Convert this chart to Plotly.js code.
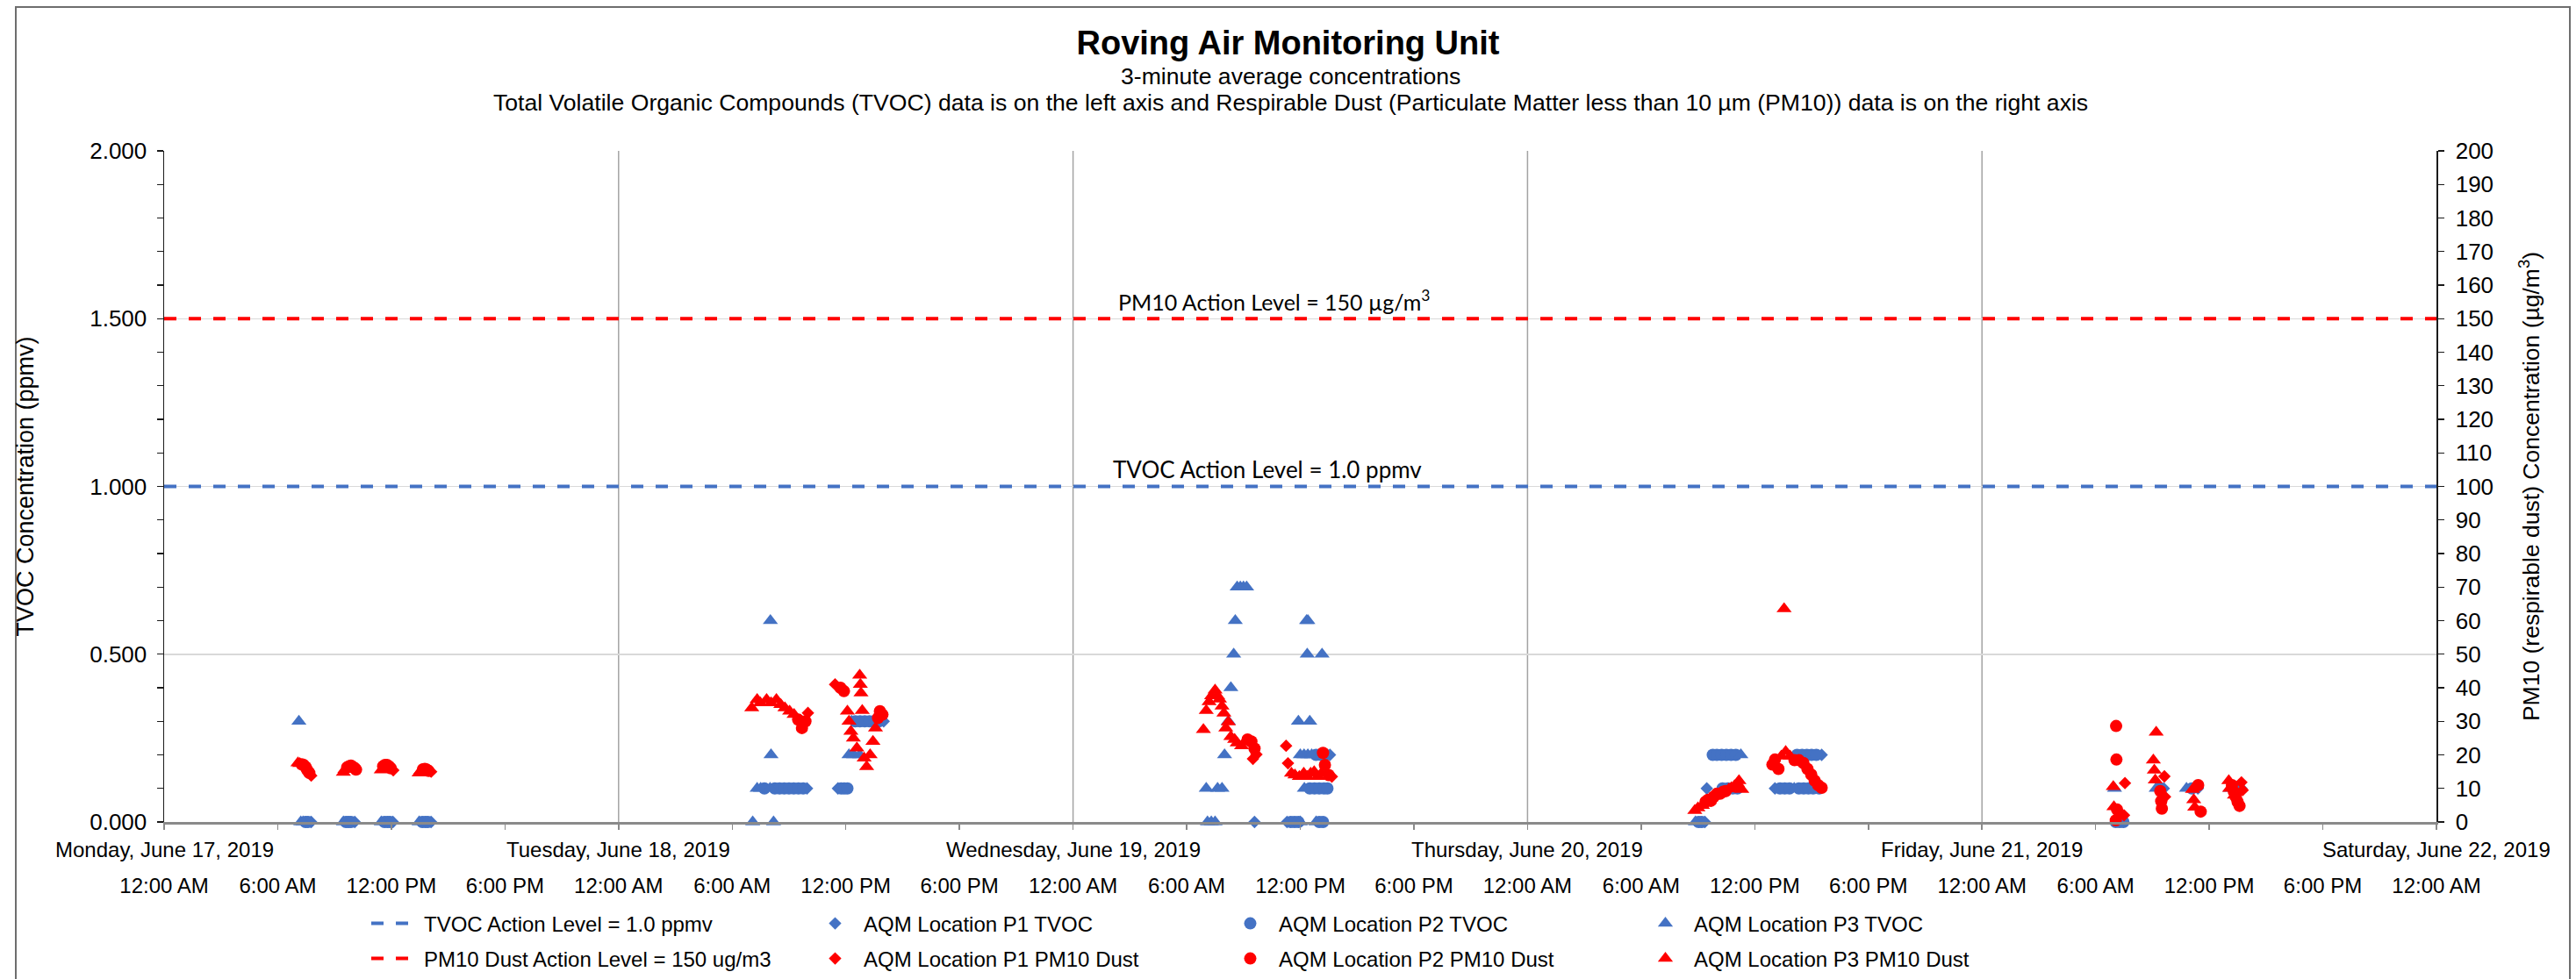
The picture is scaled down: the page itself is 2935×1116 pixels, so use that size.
<!DOCTYPE html>
<html><head><meta charset="utf-8">
<script src="https://cdn.plot.ly/plotly-3.0.1.min.js"></script>
<style>html,body{margin:0;padding:0;background:#fff;} #chart{width:2935px;height:1116px;}</style>
</head><body><div id="chart"></div>
<script>
// ---------------- DATA ----------------
const xRange = ["2019-06-17 00:00", "2019-06-22 00:00"];
const xTickVals = ["2019-06-17 00:00","2019-06-17 06:00","2019-06-17 12:00","2019-06-17 18:00",
  "2019-06-18 00:00","2019-06-18 06:00","2019-06-18 12:00","2019-06-18 18:00",
  "2019-06-19 00:00","2019-06-19 06:00","2019-06-19 12:00","2019-06-19 18:00",
  "2019-06-20 00:00","2019-06-20 06:00","2019-06-20 12:00","2019-06-20 18:00",
  "2019-06-21 00:00","2019-06-21 06:00","2019-06-21 12:00","2019-06-21 18:00",
  "2019-06-22 00:00"];
const xTickText = ["12:00 AM","6:00 AM","12:00 PM","6:00 PM",
  "12:00 AM","6:00 AM","12:00 PM","6:00 PM",
  "12:00 AM","6:00 AM","12:00 PM","6:00 PM",
  "12:00 AM","6:00 AM","12:00 PM","6:00 PM",
  "12:00 AM","6:00 AM","12:00 PM","6:00 PM",
  "12:00 AM"];
const dayVals = ["2019-06-17 00:00","2019-06-18 00:00","2019-06-19 00:00","2019-06-20 00:00","2019-06-21 00:00","2019-06-22 00:00"];
const dayLabels = ["Monday, June 17, 2019","Tuesday, June 18, 2019","Wednesday, June 19, 2019","Thursday, June 20, 2019","Friday, June 21, 2019","Saturday, June 22, 2019"];
const leftTickVals = [0, 0.5, 1.0, 1.5, 2.0];

const actionX = ["2019-06-17 00:00", "2019-06-22 00:00"];
const tvocActionY = [1.0, 1.0];
const pmActionY = [150, 150];

// AQM Location P1 TVOC (ppmv)
const p1TvocT = ["2019-06-17 07:46","2019-06-17 10:04","2019-06-17 12:05","2019-06-17 14:06",
  "2019-06-18 09:57","2019-06-18 11:35","2019-06-18 14:00",
  "2019-06-19 09:35","2019-06-19 11:18","2019-06-19 13:34",
  "2019-06-20 09:22","2019-06-20 09:28","2019-06-20 15:32","2019-06-20 13:04",
  "2019-06-21 09:36","2019-06-21 11:24","2019-06-21 13:42"];
const p1TvocV = [0,0,0,0, 0.1,0.1,0.3, 0,0,0.2, 0,0.1,0.2,0.1, 0.1,0.1,0.1];

// AQM Location P2 TVOC (ppmv)
const p2TvocT = ["2019-06-17 07:28","2019-06-17 07:36","2019-06-17 09:36","2019-06-17 09:44","2019-06-17 09:52",
  "2019-06-17 11:38","2019-06-17 11:48","2019-06-17 11:56","2019-06-17 13:38","2019-06-17 13:48","2019-06-17 13:56",
  "2019-06-18 07:42","2019-06-18 08:15","2019-06-18 08:30","2019-06-18 08:45","2019-06-18 09:00","2019-06-18 09:15","2019-06-18 09:30","2019-06-18 09:45",
  "2019-06-18 11:45","2019-06-18 11:55","2019-06-18 12:05",
  "2019-06-18 12:30","2019-06-18 12:45","2019-06-18 13:00","2019-06-18 13:15","2019-06-18 13:30","2019-06-18 13:45",
  "2019-06-19 11:30","2019-06-19 11:42","2019-06-19 11:54","2019-06-19 13:00","2019-06-19 13:12",
  "2019-06-19 12:50","2019-06-19 13:05","2019-06-19 13:20",
  "2019-06-19 12:30","2019-06-19 12:45","2019-06-19 13:00","2019-06-19 13:15","2019-06-19 13:26",
  "2019-06-20 09:02","2019-06-20 09:12",
  "2019-06-20 10:18","2019-06-20 10:35","2019-06-20 10:50","2019-06-20 11:05",
  "2019-06-20 09:47","2019-06-20 10:00","2019-06-20 10:15","2019-06-20 10:30","2019-06-20 10:45","2019-06-20 11:00",
  "2019-06-20 14:14","2019-06-20 14:30","2019-06-20 14:45","2019-06-20 15:00","2019-06-20 15:15",
  "2019-06-20 13:20","2019-06-20 13:35","2019-06-20 13:50","2019-06-20 14:20","2019-06-20 14:35","2019-06-20 14:50","2019-06-20 15:05","2019-06-20 15:24",
  "2019-06-21 07:04","2019-06-21 07:16","2019-06-21 07:28","2019-06-21 09:24","2019-06-21 11:05","2019-06-21 13:24"];
const p2TvocV = [0,0,0,0,0, 0,0,0,0,0,0,
  0.1,0.1,0.1,0.1,0.1,0.1,0.1,0.1,
  0.1,0.1,0.1,
  0.3,0.3,0.3,0.3,0.3,0.3,
  0,0,0,0,0,
  0.2,0.2,0.2,
  0.1,0.1,0.1,0.1,0.1,
  0,0,
  0.1,0.1,0.1,0.1,
  0.2,0.2,0.2,0.2,0.2,0.2,
  0.2,0.2,0.2,0.2,0.2,
  0.1,0.1,0.1,0.1,0.1,0.1,0.1,0.1,
  0,0,0,0.1,0.1,0.1];

// AQM Location P3 TVOC (ppmv)
const p3TvocT = ["2019-06-17 07:07","2019-06-17 07:13","2019-06-17 07:20","2019-06-17 09:28","2019-06-17 11:28","2019-06-17 13:28",
  "2019-06-18 08:01","2019-06-18 08:03","2019-06-18 07:05","2019-06-18 08:11","2019-06-18 07:19","2019-06-18 07:30","2019-06-18 08:00",
  "2019-06-18 12:10","2019-06-18 12:25","2019-06-18 12:44","2019-06-18 12:18",
  "2019-06-19 08:40","2019-06-19 08:50","2019-06-19 09:00","2019-06-19 09:10","2019-06-19 08:34","2019-06-19 08:29","2019-06-19 08:20",
  "2019-06-19 08:12","2019-06-19 08:00","2019-06-19 07:02","2019-06-19 07:38","2019-06-19 07:52","2019-06-19 07:06","2019-06-19 07:18","2019-06-19 07:30",
  "2019-06-19 12:00","2019-06-19 12:50",
  "2019-06-19 12:20","2019-06-19 12:24","2019-06-19 12:22","2019-06-19 13:09","2019-06-19 11:54","2019-06-19 12:30",
  "2019-06-19 12:00","2019-06-19 12:12","2019-06-19 12:24","2019-06-19 12:36","2019-06-19 12:13",
  "2019-06-20 08:52","2019-06-20 11:12","2019-06-20 11:16","2019-06-20 14:05",
  "2019-06-21 07:00","2019-06-21 09:12","2019-06-21 10:48","2019-06-21 13:06"];
const p3TvocV = [0.3,0,0,0,0,0,
  0.6,0.2,0,0,0.1,0.1,0.1,
  0.2,0.2,0.2,0.3,
  0.7,0.7,0.7,0.7,0.6,0.5,0.4,
  0.3,0.2,0.1,0.1,0.1,0,0,0,
  0,0,
  0.6,0.6,0.5,0.5,0.3,0.3,
  0.2,0.2,0.2,0.2,0.1,
  0,0.1,0.2,0.1,
  0.1,0.1,0.1,0.1];

// AQM Location P1 PM10 Dust (ug/m3)
const p1PmT = ["2019-06-17 07:46","2019-06-17 12:06","2019-06-17 14:06",
  "2019-06-18 10:00","2019-06-18 11:26",
  "2019-06-19 09:30","2019-06-19 09:41","2019-06-19 11:15","2019-06-19 11:21","2019-06-19 13:40",
  "2019-06-21 07:33","2019-06-21 07:30","2019-06-21 09:38","2019-06-21 09:40","2019-06-21 13:42","2019-06-21 13:46"];
const p1PmV = [13.8,15.4,15.0, 32.5,41.0, 18.8,20.1,22.7,17.5,13.5, 11.6,2.0,13.6,7.5,11.8,9.5];

// AQM Location P2 PM10 Dust (ug/m3)
const p2PmT = ["2019-06-17 07:16","2019-06-17 07:22","2019-06-17 07:28","2019-06-17 07:34","2019-06-17 07:40",
  "2019-06-17 09:40","2019-06-17 09:46","2019-06-17 09:52","2019-06-17 09:58","2019-06-17 10:04","2019-06-17 10:08",
  "2019-06-17 11:34","2019-06-17 11:40","2019-06-17 11:46","2019-06-17 11:52","2019-06-17 11:58",
  "2019-06-17 13:40","2019-06-17 13:46","2019-06-17 13:52","2019-06-17 13:58",
  "2019-06-18 09:29","2019-06-18 09:41","2019-06-18 09:52","2019-06-18 11:43","2019-06-18 11:54","2019-06-18 13:42","2019-06-18 13:48","2019-06-18 13:56",
  "2019-06-19 09:13","2019-06-19 09:25","2019-06-19 09:35","2019-06-19 13:12","2019-06-19 13:18","2019-06-19 13:30",
  "2019-06-20 09:24","2019-06-20 09:32","2019-06-20 09:41","2019-06-20 09:50","2019-06-20 10:00","2019-06-20 10:10","2019-06-20 10:20","2019-06-20 10:28",
  "2019-06-20 12:56","2019-06-20 13:04","2019-06-20 13:15","2019-06-20 14:06","2019-06-20 14:20","2019-06-20 14:34","2019-06-20 14:47","2019-06-20 14:59","2019-06-20 15:10","2019-06-20 15:21","2019-06-20 15:32",
  "2019-06-21 07:05","2019-06-21 07:06","2019-06-21 07:08","2019-06-21 07:04",
  "2019-06-21 09:25","2019-06-21 09:28","2019-06-21 09:30","2019-06-21 11:25","2019-06-21 11:33",
  "2019-06-21 13:12","2019-06-21 13:18","2019-06-21 13:24","2019-06-21 13:30","2019-06-21 13:36"];
const p2PmV = [17.2,17.0,16.4,15.4,14.6,
  16.3,16.6,16.8,16.4,16.0,15.6,
  16.6,17.0,17.0,16.6,16.0,
  15.7,15.8,15.6,15.2,
  30.5,28.0,30.0,40.0,39.0,31.0,33.0,32.0,
  24.6,24.0,21.9,20.6,17.0,14.0,
  6.0,6.6,6.3,7.5,8.4,8.4,9.0,9.2,
  17.1,18.6,15.8,18.4,18.4,17.6,15.8,14.1,12.3,11.0,10.2,
  28.6,18.6,3.7,0.5,
  9.2,6.2,4.0,11.0,3.1,
  11.0,9.0,7.5,6.0,4.8];

// AQM Location P3 PM10 Dust (ug/m3)
const p3PmT = ["2019-06-17 07:04","2019-06-17 07:10","2019-06-17 09:28","2019-06-17 09:33","2019-06-17 11:28","2019-06-17 13:28","2019-06-17 13:33",
  "2019-06-18 07:02","2019-06-18 07:19","2019-06-18 07:29","2019-06-18 07:49","2019-06-18 08:03","2019-06-18 08:20","2019-06-18 08:34","2019-06-18 08:47","2019-06-18 09:02","2019-06-18 09:16",
  "2019-06-18 12:05","2019-06-18 12:10","2019-06-18 12:16","2019-06-18 12:24","2019-06-18 12:35","2019-06-18 12:44","2019-06-18 12:46","2019-06-18 12:48","2019-06-18 12:52","2019-06-18 12:58","2019-06-18 13:06","2019-06-18 13:17","2019-06-18 13:26","2019-06-18 13:34",
  "2019-06-19 06:53","2019-06-19 07:02","2019-06-19 07:11","2019-06-19 07:19","2019-06-19 07:30","2019-06-19 07:38","2019-06-19 07:44","2019-06-19 07:52","2019-06-19 07:58","2019-06-19 08:04","2019-06-19 08:12","2019-06-19 08:20","2019-06-19 08:32","2019-06-19 08:40","2019-06-19 08:54",
  "2019-06-19 11:32","2019-06-19 11:43","2019-06-19 11:57","2019-06-19 12:11","2019-06-19 12:22","2019-06-19 12:33","2019-06-19 12:44","2019-06-19 12:56","2019-06-19 13:07",
  "2019-06-20 08:50","2019-06-20 09:00","2019-06-20 09:14","2019-06-20 10:38","2019-06-20 10:46","2019-06-20 10:56","2019-06-20 11:05","2019-06-20 11:10","2019-06-20 11:19",
  "2019-06-20 13:33","2019-06-20 13:24","2019-06-20 13:38","2019-06-20 13:52",
  "2019-06-21 06:56","2019-06-21 06:58","2019-06-21 09:03","2019-06-21 09:06","2019-06-21 09:09","2019-06-21 09:12",
  "2019-06-21 11:07","2019-06-21 11:11","2019-06-21 11:14","2019-06-21 13:02","2019-06-21 13:05","2019-06-21 13:20"];
const p3PmV = [17.6,17.4,14.8,15.6,15.5,14.6,15.2,
  34.0,36.5,35.5,36.5,35.5,36.5,35.0,34.0,33.0,32.0,
  33.0,30.0,27.0,25.0,22.0,43.7,41.0,38.4,33.2,19.0,16.5,20.0,24.0,28.0,
  27.5,33.2,35.8,37.6,39.3,37.6,36.6,34.5,32.4,28.0,29.8,25.4,24.6,23.5,22.7,
  14.5,14.0,13.5,14.5,13.5,14.5,15.0,13.5,14.5,
  3.4,4.2,4.9,9.8,10.2,10.8,11.5,12.3,9.7,
  63.5,19.6,21.0,19.6,
  10.5,4.5,18.4,15.4,12.5,26.7,
  9.7,6.6,4.4,12.3,10.0,8.0];

// ---------------- STYLE / LAYOUT ----------------
const BLUE = "#4472C4", RED = "#FF0000";
const FONT = "Liberation Sans, Arial, sans-serif";
const L = 187, R = 2776, T = 172, B = 937;
const px = x => (x - L) / (R - L);
const py = y => (B - y) / (B - T);

function markerTrace(name, t, v, symbol, size, color, yaxis, legend) {
  return {type: "scatter", mode: "markers", name, x: t, y: v, yaxis, legend,
    cliponaxis: false, marker: {symbol, size, color, line: {width: 0}}};
}

const traces = [
  {type: "scatter", mode: "lines", name: "TVOC Action Level = 1.0 ppmv", x: actionX, y: tvocActionY,
   yaxis: "y", legend: "legend", legendwidth: 431, line: {color: BLUE, width: 4, dash: "14px,14px"}},
  markerTrace("AQM Location P1 TVOC", p1TvocT, p1TvocV, "diamond", 11, BLUE, "y", "legend"),
  markerTrace("AQM Location P2 TVOC", p2TvocT, p2TvocV, "circle", 14, BLUE, "y", "legend"),
  markerTrace("AQM Location P3 TVOC", p3TvocT, p3TvocV, "triangle-up", 15, BLUE, "y", "legend"),
  {type: "scatter", mode: "lines", name: "PM10 Dust Action Level = 150 ug/m3", x: actionX, y: pmActionY,
   yaxis: "y2", legend: "legend2", legendwidth: 431, line: {color: RED, width: 4, dash: "14px,14px"}},
  markerTrace("AQM Location P1 PM10 Dust", p1PmT, p1PmV, "diamond", 11, RED, "y2", "legend2"),
  markerTrace("AQM Location P2 PM10 Dust", p2PmT, p2PmV, "circle", 14, RED, "y2", "legend2"),
  markerTrace("AQM Location P3 PM10 Dust", p3PmT, p3PmV, "triangle-up", 15, RED, "y2", "legend2")
];

const annotations = [
  {text: "3-minute average concentrations", xref: "paper", yref: "paper", x: px(1470), y: py(87),
   xanchor: "center", yanchor: "middle", showarrow: false, font: {family: FONT, size: 26.6, color: "#000"}},
  {text: "Total Volatile Organic Compounds (TVOC) data is on the left axis and Respirable Dust (Particulate Matter less than 10 µm (PM10)) data is on the right axis",
   xref: "paper", yref: "paper", x: px(1470), y: py(117), xanchor: "center", yanchor: "middle", showarrow: false,
   font: {family: FONT, size: 26.6, color: "#000"}},
  {text: "PM10 Action Level = 150 µg/m<sup>3</sup>", xref: "paper", yref: "y2", x: px(1452), y: pmActionY[0],
   xanchor: "center", yanchor: "bottom", yshift: 2, showarrow: false, font: {family: "Lato, sans-serif", size: 25, color: "#000"}},
  {text: "TVOC Action Level = 1.0 ppmv", xref: "paper", yref: "y", x: px(1444), y: tvocActionY[0],
   xanchor: "center", yanchor: "bottom", yshift: 2, showarrow: false, font: {family: "Lato, sans-serif", size: 26, color: "#000"}}
];
dayVals.forEach((d, i) => annotations.push({text: dayLabels[i], xref: "x", yref: "paper", x: d, y: py(968),
  xanchor: "center", yanchor: "middle", showarrow: false, font: {family: FONT, size: 24, color: "#000"}}));

const shapes = [];
dayVals.slice(1, -1).forEach(d => shapes.push({type: "line", xref: "x", yref: "paper", x0: d, x1: d, y0: 0, y1: 1,
  layer: "below", line: {color: "#a3a3a3", width: 1.5}}));
shapes.push({type: "rect", xref: "paper", yref: "paper", x0: px(18), x1: px(2928), y0: py(1140), y1: py(8),
  line: {color: "#6e6e6e", width: 2}, fillcolor: "rgba(0,0,0,0)"});

const legendBase = {orientation: "h", xref: "container", yref: "container", xanchor: "left", yanchor: "middle",
  font: {family: FONT, size: 24, color: "#000"}, itemwidth: 55, entrywidth: 403, entrywidthmode: "pixels",
  bgcolor: "rgba(0,0,0,0)", traceorder: "normal"};

const layout = {
  width: 2935, height: 1116,
  margin: {l: L, r: 2935 - R, t: T, b: 1116 - B, pad: 0},
  paper_bgcolor: "#fff", plot_bgcolor: "#fff",
  font: {family: FONT, color: "#000"},
  showlegend: true,
  title: {text: "<b>Roving Air Monitoring Unit</b>", x: 0.5, xref: "container", xanchor: "center",
    y: 1 - 49 / 1116, yref: "container", yanchor: "middle", font: {family: FONT, size: 38, color: "#000"}},
  xaxis: {type: "date", range: xRange, tickmode: "array", tickvals: xTickVals, ticktext: xTickText,
    showgrid: false, zeroline: false, showline: true, linecolor: "#8a8a8a", linewidth: 2.5,
    ticks: "outside", ticklen: 6, tickcolor: "#8a8a8a", tickwidth: 1.5, ticklabelstandoff: 44,
    tickfont: {family: FONT, size: 24, color: "#000"}, fixedrange: true},
  yaxis: {range: [0, 2], tickmode: "array", tickvals: leftTickVals, tickformat: ".3f",
    showgrid: true, gridcolor: "#d9d9d9", gridwidth: 1.5, zeroline: false,
    showline: true, linecolor: "#1a1a1a", linewidth: 1.5,
    ticks: "outside", ticklen: 7, tickcolor: "#1a1a1a", tickwidth: 1.2, ticklabelstandoff: 6,
    minor: {dtick: 0.1, ticks: "outside", ticklen: 7, tickcolor: "#1a1a1a", tickwidth: 1.2, showgrid: false},
    tickfont: {family: FONT, size: 26, color: "#000"},
    title: {text: "TVOC Concentration (ppmv)", font: {family: FONT, size: 27, color: "#000"}, standoff: 56},
    fixedrange: true},
  yaxis2: {overlaying: "y", side: "right", range: [0, 200], dtick: 10, tick0: 0,
    showgrid: false, zeroline: false, showline: true, linecolor: "#1a1a1a", linewidth: 1.5,
    ticks: "outside", ticklen: 7, tickcolor: "#1a1a1a", tickwidth: 1.2, ticklabelstandoff: 8,
    tickfont: {family: FONT, size: 26, color: "#000"},
    title: {text: "PM10 (respirable dust) Concentration (µg/m<sup>3</sup>)", font: {family: FONT, size: 26.5, color: "#000"}, standoff: 34},
    fixedrange: true},
  legend: Object.assign({}, legendBase, {x: 418 / 2935, y: 1 - 1053 / 1116}),
  legend2: Object.assign({}, legendBase, {x: 418 / 2935, y: 1 - 1093 / 1116}),
  annotations, shapes
};

Plotly.newPlot("chart", traces, layout, {staticPlot: true, displayModeBar: false});
</script></body></html>
